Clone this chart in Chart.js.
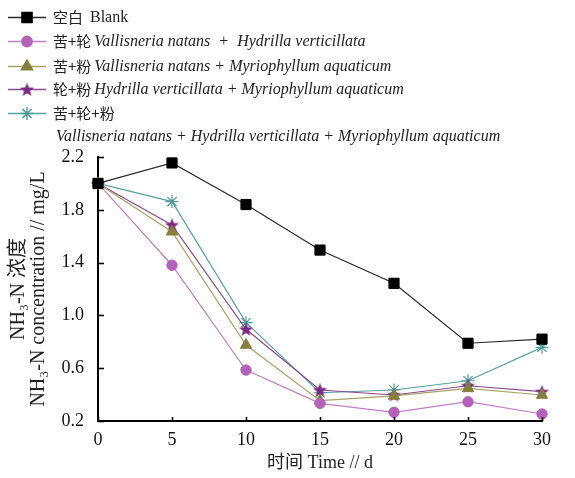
<!DOCTYPE html>
<html>
<head>
<meta charset="utf-8">
<script src="https://cdn.jsdelivr.net/npm/chart.js@4.4.0/dist/chart.umd.min.js"></script>
<style>
html,body{margin:0;padding:0;background:#fff;}
#wrap{position:relative;width:575px;height:478px;}
</style>
</head>
<body>
<div id="wrap"><canvas id="c" width="575" height="478"></canvas></div>
<script>
// ---- data ----
const days = [0, 5, 10, 15, 20, 25, 30];
const blank = [2.00, 2.155, 1.84, 1.495, 1.243, 0.789, 0.82];
const vnHv  = [2.00, 1.38, 0.586, 0.334, 0.266, 0.346, 0.253];
const vnMa  = [2.00, 1.634, 0.776, 0.354, 0.39, 0.447, 0.397];
const hvMa  = [2.00, 1.685, 0.895, 0.435, 0.397, 0.467, 0.422];
const all3  = [2.00, 1.862, 0.945, 0.414, 0.435, 0.505, 0.758];
const yTicks = [0.2, 0.6, 1.0, 1.4, 1.8, 2.2];
const xTicks = [0, 5, 10, 15, 20, 25, 30];
const seriesCn = ['空白', '苦+轮', '苦+粉', '轮+粉', '苦+轮+粉'];
const seriesLatin = ['Blank', 'Vallisneria natans  +  Hydrilla verticillata', 'Vallisneria natans + Myriophyllum aquaticum', 'Hydrilla verticillata + Myriophyllum aquaticum', 'Vallisneria natans + Hydrilla verticillata + Myriophyllum aquaticum'];
const yTitle = ['NH\u2083-N 浓度', 'NH\u2083-N concentration // mg/L'];
const xTitle = '时间 Time // d';

// filled star image for pointStyle
function makeStar(color, size) {
  const c = document.createElement('canvas');
  c.width = size; c.height = size;
  const g = c.getContext('2d');
  const cx = size / 2, cy = size / 2 + 0.5, R = size / 2, r = R * 0.42;
  g.beginPath();
  for (let i = 0; i < 10; i++) {
    const rad = (i % 2 === 0) ? R : r;
    const a = -Math.PI / 2 + i * Math.PI / 5;
    const px = cx + rad * Math.cos(a), py = cy + rad * Math.sin(a);
    if (i === 0) g.moveTo(px, py); else g.lineTo(px, py);
  }
  g.closePath();
  g.fillStyle = color; g.fill();
  return c;
}
const starImg = makeStar('#7a2a82', 15);

const toXY = arr => arr.map((v, i) => ({x: days[i], y: v}));

const styles = [
  {line: '#2a2a2a', fill: '#000000', pointStyle: 'rect', radius: 7.2, bw: 1},
  {line: '#c27ec6', fill: '#b462b9', pointStyle: 'circle', radius: 5.2, bw: 1},
  {line: '#a9a265', fill: '#857e3c', pointStyle: 'triangle', radius: 6.5, bw: 1},
  {line: '#8a4a92', fill: '#7a2a82', pointStyle: starImg, radius: 7, bw: 1},
  {line: '#5aa2a2', fill: '#4e9a9c', pointStyle: 'star', radius: 6.5, bw: 1.2}
];
const seriesData = [blank, vnHv, vnMa, hvMa, all3];

const datasets = seriesData.map((d, i) => ({
  label: seriesCn[i] + ' ' + seriesLatin[i],
  data: toXY(d),
  borderColor: styles[i].line,
  borderWidth: 1.2,
  backgroundColor: styles[i].fill,
  pointBackgroundColor: styles[i].fill,
  pointBorderColor: styles[i].fill,
  pointBorderWidth: styles[i].bw,
  pointStyle: styles[i].pointStyle,
  pointRadius: styles[i].radius,
  tension: 0,
  fill: false,
  clip: false
}));

// inward tick marks
const inwardTicks = {
  id: 'inwardTicks',
  afterDraw(chart) {
    const ctx = chart.ctx, a = chart.chartArea;
    const ys = chart.scales.y, xs = chart.scales.x;
    ctx.save();
    ctx.strokeStyle = '#000';
    ctx.lineWidth = 1.6;
    yTicks.forEach(v => {
      const py = Math.round(ys.getPixelForValue(v)) + 0.5;
      ctx.beginPath(); ctx.moveTo(a.left, py); ctx.lineTo(a.left + 6, py); ctx.stroke();
    });
    xTicks.forEach(v => {
      const px = Math.round(xs.getPixelForValue(v)) + 0.5;
      ctx.beginPath(); ctx.moveTo(px, a.bottom); ctx.lineTo(px, a.bottom - 4); ctx.stroke();
    });
    ctx.restore();
  }
};

// custom legend
const customLegend = {
  id: 'customLegend',
  afterDraw(chart) {
    const ctx = chart.ctx;
    const rowY = [17, 41, 66, 89, 113];
    ctx.save();
    ctx.textBaseline = 'middle';
    for (let i = 0; i < seriesCn.length; i++) {
      const y = rowY[i];
      const s = styles[i];
      ctx.strokeStyle = s.line;
      ctx.lineWidth = 1.4;
      ctx.beginPath(); ctx.moveTo(8, y + 0.5); ctx.lineTo(46, y + 0.5); ctx.stroke();
      ctx.fillStyle = s.fill; ctx.strokeStyle = s.fill;
      Chart.helpers.drawPoint(ctx, {pointStyle: s.pointStyle, radius: s.radius, borderWidth: s.bw, rotation: 0}, 27, y + 0.5);
      ctx.fillStyle = '#222';
      ctx.font = "15px 'Noto Sans CJK SC'";
      ctx.fillText(seriesCn[i], 53, y);
      const cnW = ctx.measureText(seriesCn[i]).width;
      if (i === 0) {
        ctx.font = "16px 'Liberation Serif'";
        ctx.fillText(seriesLatin[i], 90, y + 1);
      } else if (i < 4) {
        ctx.font = "italic 16px 'Liberation Serif'";
        ctx.fillText(seriesLatin[i], 53 + cnW + 3, y + 1);
      } else {
        ctx.font = "italic 16px 'Liberation Serif'";
        ctx.fillText(seriesLatin[i], 56, 137);
      }
    }
    ctx.restore();
  }
};

new Chart(document.getElementById('c'), {
  type: 'line',
  data: {datasets},
  options: {
    responsive: false,
    animation: false,
    devicePixelRatio: 1,
    layout: {padding: {top: 157, right: 33, left: 0, bottom: 0}},
    plugins: {legend: {display: false}, tooltip: {enabled: false}},
    scales: {
      x: {
        type: 'linear', min: 0, max: 30,
        afterBuildTicks: s => { s.ticks = xTicks.map(v => ({value: v})); },
        afterFit: s => { s.height = 57; },
        grid: {display: false},
        border: {display: true, color: '#000', width: 2},
        ticks: {color: '#111', padding: 0, font: {family: "'Liberation Serif'", size: 18}, maxRotation: 0},
        title: {display: true, text: xTitle, color: '#222', padding: {top: 4, bottom: 4}, font: {family: "'Liberation Serif', 'Noto Sans CJK SC'", size: 18}}
      },
      y: {
        type: 'linear', min: 0.2, max: 2.2,
        afterBuildTicks: s => { s.ticks = yTicks.map(v => ({value: v})); },
        afterFit: s => { s.width = 98; },
        grid: {display: false},
        border: {display: true, color: '#000', width: 2},
        ticks: {color: '#111', padding: 6, font: {family: "'Liberation Serif'", size: 18}, callback: v => v.toFixed(1)},
        title: {display: true, text: yTitle, color: '#222', padding: {top: 9, bottom: 0}, font: {family: "'Liberation Serif', 'Noto Sans CJK SC'", size: 20, lineHeight: 1.0}}
      }
    }
  },
  plugins: [inwardTicks, customLegend]
});
</script>
</body>
</html>
